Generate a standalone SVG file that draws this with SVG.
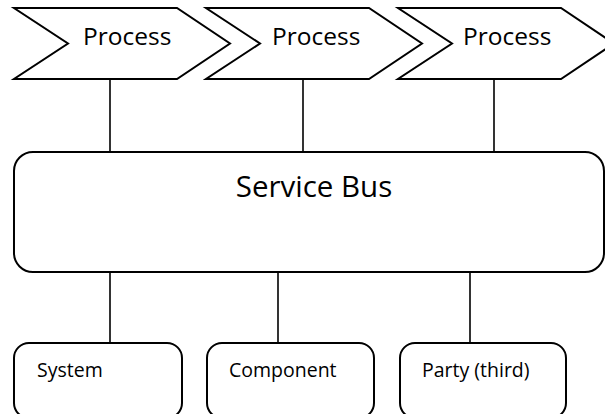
<svg xmlns="http://www.w3.org/2000/svg" width="605" height="414" viewBox="0 0 605 414">
  <style>
    .shape { fill: #ffffff; stroke: #000000; stroke-width: 2; stroke-linejoin: miter; }
    .link { stroke: #000000; stroke-width: 1.6; fill: none; }
    .label { font-family: "Open Sans", "DejaVu Sans", sans-serif; fill: #000000; }
    .proc { font-size: 24.5px; }
    .bus { font-size: 29.5px; }
    .small { font-size: 19.5px; }
  </style>
  <rect width="605" height="414" fill="#ffffff"/>

  <!-- connectors -->
  <g id="connectors">
    <line class="link" x1="110" y1="79" x2="110" y2="152"/>
    <line class="link" x1="303" y1="79" x2="303" y2="152"/>
    <line class="link" x1="494" y1="79" x2="494" y2="152"/>
    <line class="link" x1="110" y1="272" x2="110" y2="343"/>
    <line class="link" x1="278" y1="272" x2="278" y2="343"/>
    <line class="link" x1="470" y1="272" x2="470" y2="343"/>
  </g>

  <!-- process chevrons -->
  <g id="process-1">
    <polygon class="shape" points="14,8 177,8 230,43.5 177,79 14,79 68,43.5"/>
    <text class="label proc" x="83" y="45">Process</text>
  </g>
  <g id="process-2">
    <polygon class="shape" points="206,8 369,8 422,43.5 369,79 206,79 260,43.5"/>
    <text class="label proc" x="272" y="45">Process</text>
  </g>
  <g id="process-3">
    <polygon class="shape" points="398,8 561,8 614,43.5 561,79 398,79 452,43.5"/>
    <text class="label proc" x="463" y="45">Process</text>
  </g>

  <!-- bus -->
  <g id="service-bus">
    <rect class="shape" x="14" y="152" width="590" height="120" rx="19" ry="19"/>
    <text class="label bus" x="314" y="197" text-anchor="middle">Service Bus</text>
  </g>

  <!-- endpoints -->
  <g id="system">
    <rect class="shape" x="14" y="343" width="168" height="75" rx="15" ry="15"/>
    <text class="label small" x="37" y="377">System</text>
  </g>
  <g id="component">
    <rect class="shape" x="207" y="343" width="167" height="75" rx="15" ry="15"/>
    <text class="label small" x="229" y="377">Component</text>
  </g>
  <g id="party-third">
    <rect class="shape" x="400" y="343" width="166" height="75" rx="15" ry="15"/>
    <text class="label small" x="422" y="377">Party (third)</text>
  </g>
</svg>
